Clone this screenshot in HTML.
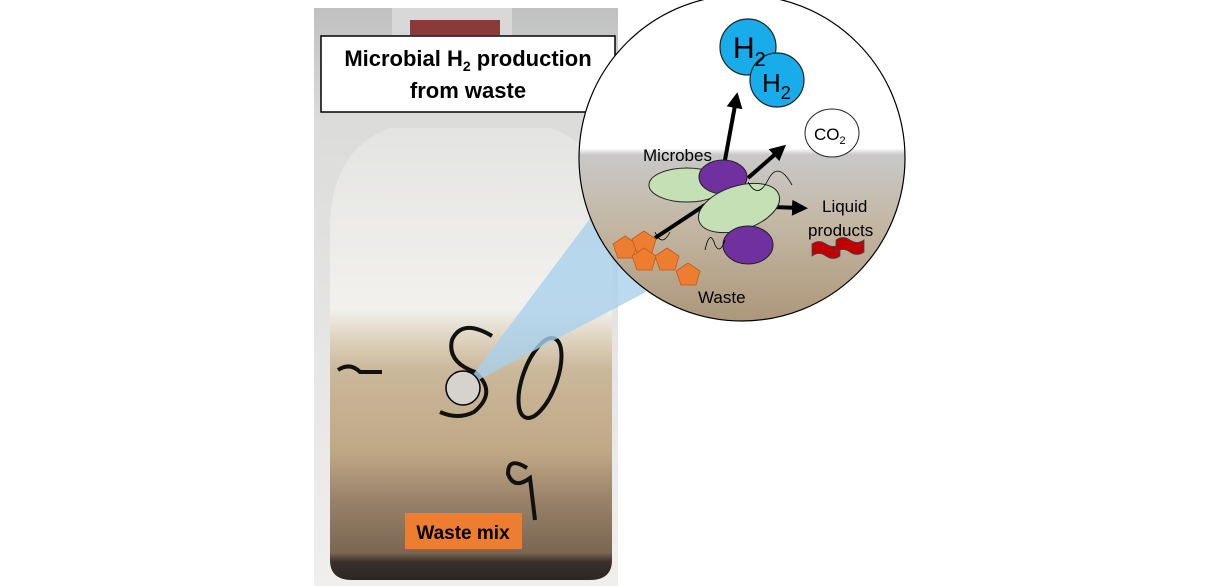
<!DOCTYPE html>
<html><head><meta charset="utf-8"><style>
html,body{margin:0;padding:0;background:#fff;width:1220px;height:586px;overflow:hidden}
svg{display:block}
text{font-family:"Liberation Sans",sans-serif}
</style></head><body>
<svg width="1220" height="586" viewBox="0 0 1220 586" xmlns="http://www.w3.org/2000/svg">
<defs>
<linearGradient id="bg" x1="0" y1="0" x2="0" y2="1">
<stop offset="0" stop-color="#bfc0c0"/><stop offset="0.2" stop-color="#dcdcda"/><stop offset="1" stop-color="#f0efed"/>
</linearGradient>
<linearGradient id="bot" x1="0" y1="0" x2="0" y2="1">
<stop offset="0" stop-color="#e4e4e2"/><stop offset="0.4" stop-color="#f2f1ee"/><stop offset="0.46" stop-color="#e0d6c4"/><stop offset="0.53" stop-color="#cbb99b"/><stop offset="0.72" stop-color="#bfa785"/><stop offset="0.82" stop-color="#9a836a"/><stop offset="0.94" stop-color="#7a6652"/><stop offset="0.96" stop-color="#3a302a"/><stop offset="1" stop-color="#2c2622"/>
</linearGradient>
<linearGradient id="cir" x1="0" y1="0" x2="0" y2="1">
<stop offset="0" stop-color="#ffffff"/><stop offset="0.47" stop-color="#ffffff"/><stop offset="0.49" stop-color="#c9c9c8"/><stop offset="0.7" stop-color="#c3b7a4"/><stop offset="1" stop-color="#ad977a"/>
</linearGradient>
<marker id="ah" markerWidth="4" markerHeight="4" refX="2" refY="2" orient="auto" markerUnits="strokeWidth"><path d="M0,0 L4,2 L0,4 z" fill="#000"/></marker>
</defs>
<rect x="314" y="8" width="304" height="578" fill="url(#bg)"/>
<path d="M330,560 L330,230 Q330,150 390,128 L550,128 Q612,150 612,230 L612,560 Q612,580 590,580 L352,580 Q330,580 330,560 z" fill="url(#bot)"/>
<rect x="392" y="8" width="120" height="30" fill="#d8d8d8"/>
<rect x="410" y="20" width="90" height="15" fill="#8a3a3a"/>
<path d="M492,336 Q462,318 452,340 Q447,362 475,372 Q498,392 474,412 Q458,420 440,412" fill="none" stroke="#111" stroke-width="4"/>
<ellipse cx="540" cy="378" rx="17" ry="42" transform="rotate(20 540 378)" fill="none" stroke="#111" stroke-width="4"/>
<path d="M527,468 Q508,456 508,474 Q514,490 530,478 L535,520" fill="none" stroke="#111" stroke-width="4"/>
<path d="M338,370 Q350,362 360,372 L382,372" fill="none" stroke="#111" stroke-width="4"/>
<polygon points="463,388 598,208 646,292" fill="#a9d1ec" opacity="0.8"/>
<circle cx="463" cy="388" r="17" fill="#d6d3ce" stroke="#000" stroke-width="1.5"/>
<rect x="321" y="36" width="294" height="76" fill="#fff" stroke="#000" stroke-width="1.5"/>
<text x="468" y="66" text-anchor="middle" font-size="22" font-weight="bold">Microbial H<tspan font-size="14" dy="5">2</tspan><tspan dy="-5"> production</tspan></text>
<text x="468" y="98" text-anchor="middle" font-size="22" font-weight="bold">from waste</text>
<line x1="615" y1="60" x2="630" y2="45" stroke="#000"/>
<rect x="405" y="513" width="117" height="36" fill="#ed7d31"/>
<text x="463" y="539" text-anchor="middle" font-size="19" font-weight="bold">Waste mix</text>
<circle cx="742" cy="158" r="163" fill="url(#cir)" stroke="#000" stroke-width="1.2"/>
<circle cx="748" cy="47" r="28" fill="#18acea" stroke="#222" stroke-width="1.2"/>
<circle cx="777" cy="80" r="27" fill="#18acea" stroke="#222" stroke-width="1.2"/>
<text x="733" y="58" font-size="30">H<tspan font-size="20" dy="8">2</tspan></text>
<text x="762" y="92" font-size="26">H<tspan font-size="18" dy="7">2</tspan></text>
<ellipse cx="832" cy="133" rx="27" ry="24" fill="#fff" stroke="#222"/>
<text x="814" y="140" font-size="17">CO<tspan font-size="11" dy="4">2</tspan></text>
<text x="643" y="161" font-size="17">Microbes</text>
<path d="M725,160 L736,100" stroke="#000" stroke-width="4" marker-end="url(#ah)"/>
<path d="M748,178 L780,150" stroke="#000" stroke-width="4" marker-end="url(#ah)"/>
<path d="M773,207 L800,208" stroke="#000" stroke-width="4" marker-end="url(#ah)"/>
<path d="M655,238 L705,205" stroke="#000" stroke-width="4"/>
<ellipse cx="687" cy="185" rx="38" ry="17" fill="#c5e0b4" stroke="#222"/>
<ellipse cx="723" cy="177" rx="24" ry="17" fill="#7030a0" stroke="#222"/>
<ellipse cx="739" cy="208" rx="42" ry="22" transform="rotate(-18 739 208)" fill="#c5e0b4" stroke="#222"/>
<ellipse cx="748" cy="245" rx="25" ry="19" fill="#7030a0" stroke="#222"/>
<path d="M748,182 Q758,200 768,180 Q778,160 792,185" fill="none" stroke="#000" stroke-width="0.8"/>
<path d="M705,250 Q710,228 715,245 Q720,255 725,240" fill="none" stroke="#000" stroke-width="0.8"/>
<path d="M655,232 Q662,248 670,232" fill="none" stroke="#000" stroke-width="0.8"/>
<text x="822" y="212" font-size="17">Liquid</text>
<text x="808" y="236" font-size="17">products</text>
<path d="M812,244 Q819,239 826,244 Q833,249 840,244 L840,256 Q833,261 826,256 Q819,251 812,256 z" fill="#c00000" stroke="#445" stroke-width="0.8"/>
<path d="M836,240 Q843,235 850,240 Q857,245 864,240 L864,252 Q857,257 850,252 Q843,247 836,252 z" fill="#c00000" stroke="#445" stroke-width="0.8"/>
<g fill="#ed7d31" stroke="#c05a1a" stroke-width="0.8">
<polygon points="625,236 637,244 633,258 618,258 613,244"/>
<polygon points="644,231 656,239 652,253 637,253 632,239"/>
<polygon points="644,248 656,256 652,270 637,270 632,256"/>
<polygon points="667,248 679,256 675,270 660,270 655,256"/>
<polygon points="688,263 700,271 696,285 681,285 676,271"/>
</g>
<text x="698" y="303" font-size="17">Waste</text>
</svg>
</body></html>
